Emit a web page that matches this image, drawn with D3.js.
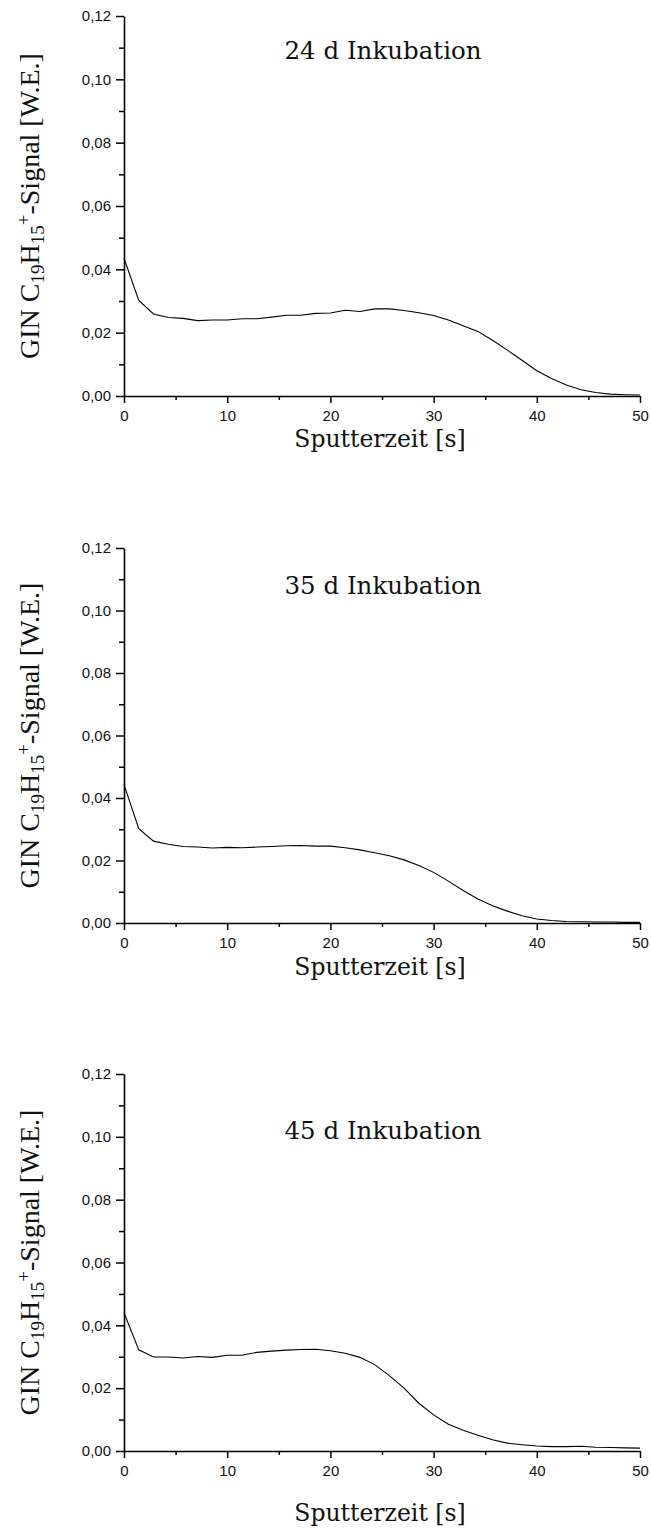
<!DOCTYPE html>
<html><head><meta charset="utf-8">
<script src="https://cdn.jsdelivr.net/npm/d3@7"></script>
<style>body{margin:0;background:#fff}svg{display:block}</style>
</head><body>
<svg id="c" width="651" height="1532"></svg>
<script>
// Sputter time (s): 36 samples over 0..50 s
const times = [0,1.43,2.86,4.29,5.71,7.14,8.57,10,11.43,12.86,14.29,15.71,17.14,18.57,20,21.43,22.86,24.29,25.71,27.14,28.57,30,31.43,32.86,34.29,35.71,37.14,38.57,40,41.43,42.86,44.29,45.71,47.14,48.57,50];
const signal24 = [0.0435,0.0302,0.0259,0.0248,0.0245,0.0238,0.0240,0.0240,0.0244,0.0244,0.0249,0.0255,0.0255,0.0261,0.0262,0.0271,0.0267,0.0275,0.0275,0.0270,0.0263,0.0254,0.0240,0.0222,0.0204,0.0176,0.0145,0.0113,0.0080,0.0055,0.0035,0.0020,0.0011,0.0006,0.0004,0.0003];
const signal35 = [0.0443,0.0302,0.0262,0.0252,0.0245,0.0243,0.0240,0.0242,0.0241,0.0243,0.0245,0.0247,0.0248,0.0246,0.0246,0.0241,0.0234,0.0225,0.0215,0.0202,0.0184,0.0162,0.0134,0.0104,0.0077,0.0055,0.0038,0.0023,0.0013,0.0008,0.0005,0.0004,0.0003,0.0003,0.0002,0.0002];
const signal45 = [0.0440,0.0322,0.0299,0.0299,0.0296,0.0301,0.0298,0.0305,0.0305,0.0314,0.0318,0.0321,0.0323,0.0324,0.0319,0.0311,0.0298,0.0275,0.0240,0.0200,0.0152,0.0115,0.0085,0.0066,0.0050,0.0036,0.0025,0.0020,0.0016,0.0014,0.0014,0.0015,0.0012,0.0011,0.0010,0.0009];
const titles = ["24 d Inkubation","35 d Inkubation","45 d Inkubation"];
const xTicks = [0,10,20,30,40,50];
const xMinor = [5,15,25,35,45];
const yTicks = [0,0.02,0.04,0.06,0.08,0.10,0.12];
const yMinor = [0.01,0.03,0.05,0.07,0.09,0.11];
const xLabel = "Sputterzeit [s]";

const svg = d3.select("#c");
const panels = [
  {series: signal24, top: 16, bottom: 396, titleY: 59, xlabY: 447},
  {series: signal35, top: 548, bottom: 923, titleY: 594, xlabY: 975},
  {series: signal45, top: 1074, bottom: 1451, titleY: 1139, xlabY: 1521}
];
const left = 124, right = 640;
const fmt = d => d3.format(".2f")(d).replace(".", ",");
const serif = "'DejaVu Serif', serif";

panels.forEach((p, i) => {
  const x = d3.scaleLinear().domain([0,50]).range([left,right]);
  const y = d3.scaleLinear().domain([0,0.12]).range([p.bottom,p.top]);
  const g = svg.append("g");

  // minor ticks
  g.append("g").attr("transform",`translate(${left},0)`)
    .call(d3.axisLeft(y).tickValues(yMinor).tickSize(5).tickFormat(""))
    .call(s=>s.select(".domain").remove())
    .selectAll("line").attr("stroke","#000").attr("stroke-width",1.5);
  g.append("g").attr("transform",`translate(0,${p.bottom})`)
    .call(d3.axisBottom(x).tickValues(xMinor).tickSize(4).tickFormat(""))
    .call(s=>s.select(".domain").remove())
    .selectAll("line").attr("stroke","#000").attr("stroke-width",1.5);

  const ya = g.append("g").attr("transform",`translate(${left},0)`)
    .call(d3.axisLeft(y).tickValues(yTicks).tickSize(8).tickSizeOuter(0).tickPadding(5).tickFormat(fmt));
  const xa = g.append("g").attr("transform",`translate(0,${p.bottom})`)
    .call(d3.axisBottom(x).tickValues(xTicks).tickSize(7).tickSizeOuter(0).tickPadding(7));
  [ya,xa].forEach(a=>{
    a.select(".domain").attr("stroke","#000").attr("stroke-width",1.6);
    a.selectAll("line").attr("stroke","#000").attr("stroke-width",1.5);
    a.selectAll("text").attr("font-family","'Liberation Sans', Arial, sans-serif").attr("font-size",15).attr("fill","#111");
  });

  const line = d3.line().x((d,j)=>x(times[j])).y(d=>y(d));
  g.append("path").datum(p.series).attr("d",line)
    .attr("fill","none").attr("stroke","#000").attr("stroke-width",1.1);

  g.append("text").attr("x",(left+right)/2+1).attr("y",p.titleY)
    .attr("text-anchor","middle").attr("font-family",serif)
    .attr("font-size",24.5).attr("fill","#111").text(titles[i]);

  g.append("text").attr("x",(left+right)/2 - 2).attr("y",p.xlabY)
    .attr("text-anchor","middle").attr("font-family",serif)
    .attr("font-size",23.5).attr("fill","#111").text(xLabel);

  const yl = g.append("text").attr("transform",`translate(39,${(p.top+p.bottom)/2}) rotate(-90)`)
    .attr("text-anchor","middle").attr("font-family","'Liberation Serif', serif")
    .attr("font-size",28).attr("fill","#111");
  yl.append("tspan").text("GIN C");
  yl.append("tspan").attr("font-size",19).attr("dy",5).text("19");
  yl.append("tspan").attr("dy",-5).text("H");
  yl.append("tspan").attr("font-size",19).attr("dy",5).text("15");
  yl.append("tspan").attr("font-size",19).attr("dy",-14).text("+");
  yl.append("tspan").attr("dy",9).text("-Signal [W.E.]");
});
</script>
</body></html>
